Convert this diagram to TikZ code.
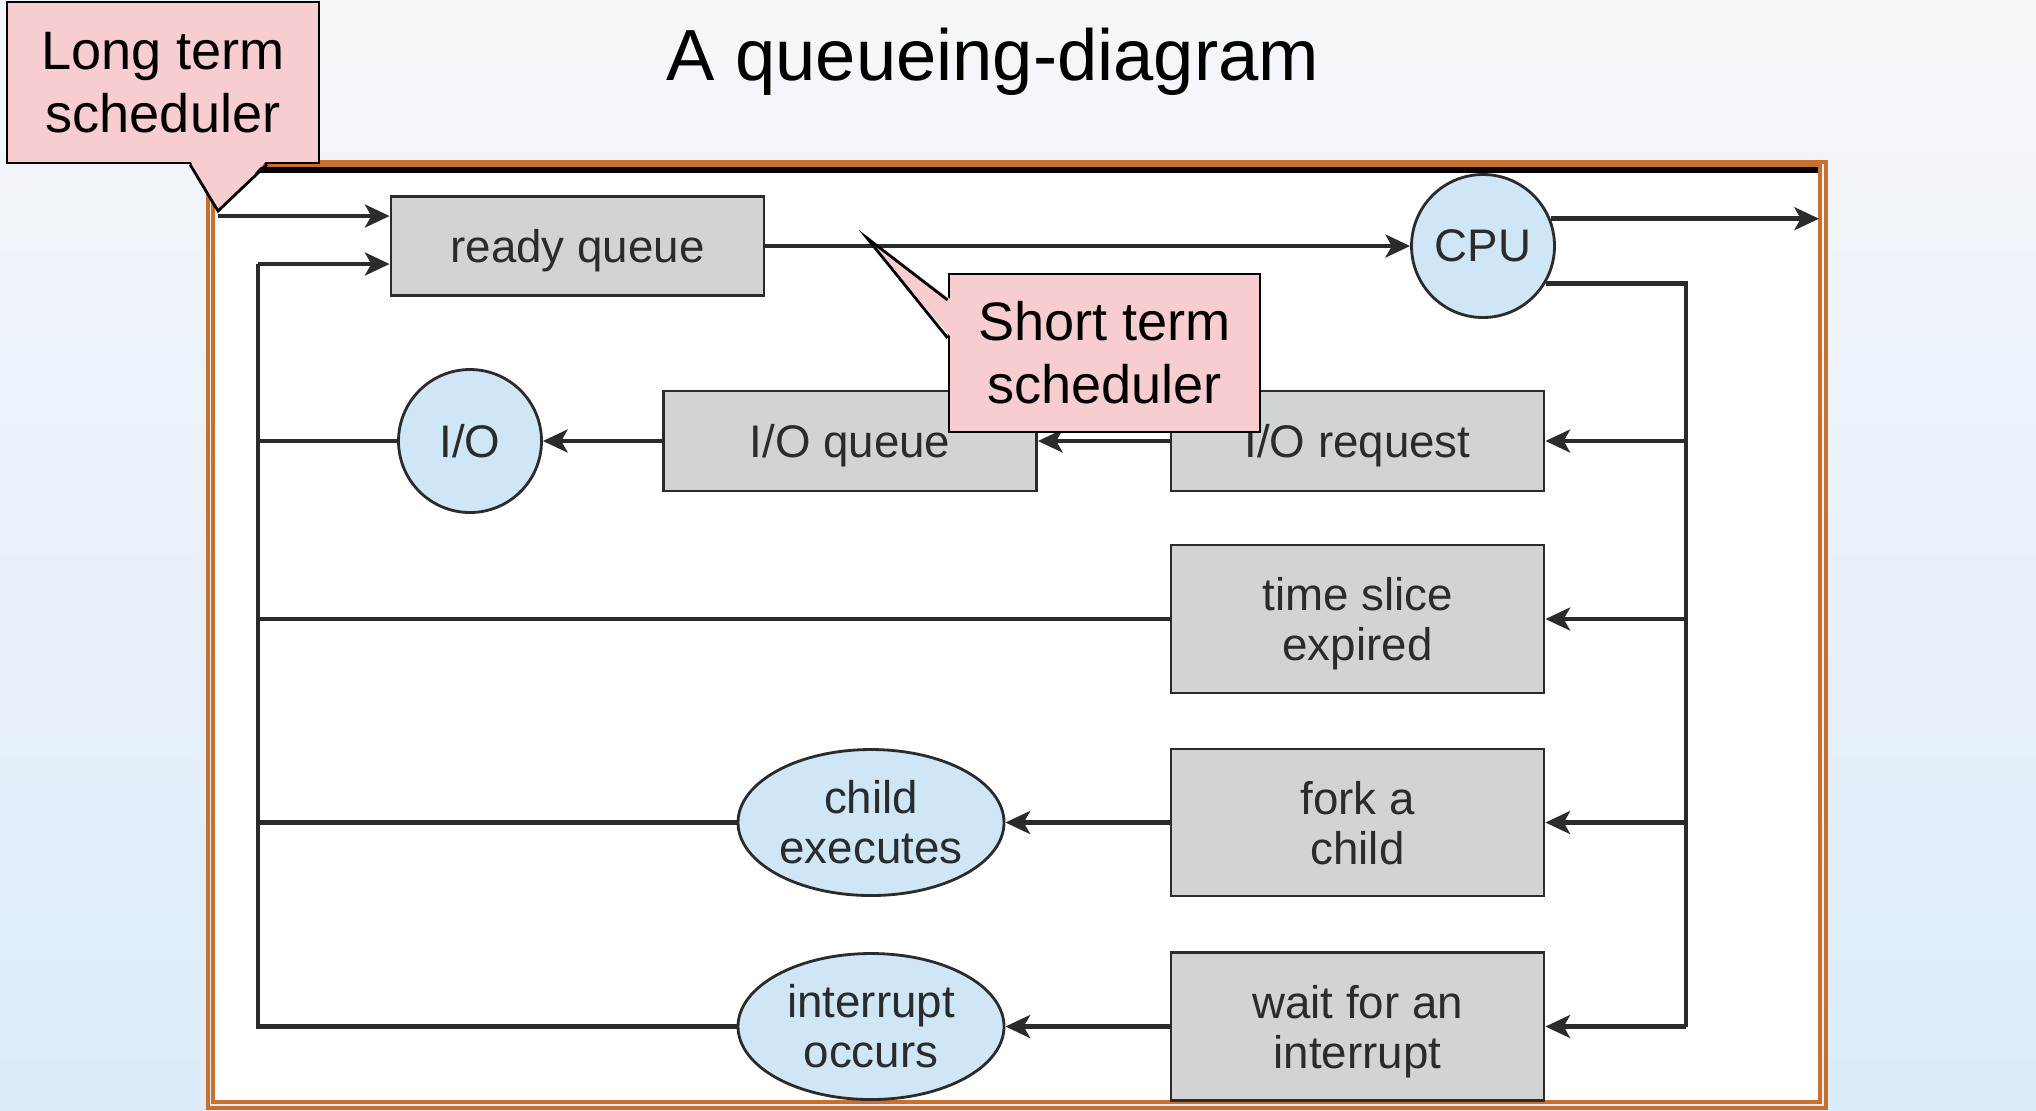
\documentclass[tikz,border=0pt]{standalone}
\usepackage{fontspec}
\setmainfont{Liberation Sans}
\usetikzlibrary{arrows.meta, positioning, shapes.geometric, calc}

\definecolor{bgtop}{HTML}{F5F7FA}
\definecolor{bgbot}{HTML}{DCECFA}
\definecolor{boxgray}{HTML}{D1D3D4}
\definecolor{devblue}{HTML}{CFE6F7}
\definecolor{notepink}{HTML}{F7CDCF}
\definecolor{frameorange}{HTML}{C8702E}
\definecolor{inkgray}{HTML}{2B2B2B}

\begin{document}
\begin{tikzpicture}[
  queue/.style={rectangle, draw=inkgray, fill=boxgray, line width=0.8pt,
                minimum width=3.73cm, inner sep=0pt, text depth=0pt, align=center,
                text=inkgray, font=\fontsize{13}{14.2}\selectfont},
  device/.style={circle, draw=inkgray, fill=devblue, line width=0.8pt,
                 minimum size=1.43cm, inner sep=0pt, text=inkgray,
                 font=\fontsize{13}{14.2}\selectfont},
  event/.style={ellipse, draw=inkgray, fill=devblue, line width=0.8pt,
                minimum width=2.66cm, minimum height=1.46cm, inner sep=0pt,
                align=center, text=inkgray, font=\fontsize{13}{14.2}\selectfont},
  note/.style={rectangle, draw=black, fill=notepink, line width=0.8pt,
               inner sep=0pt, align=center, font=\fontsize{15.4}{17.9}\selectfont},
  flow/.style={line width=1.3pt, draw=inkgray, -{Stealth[length=7pt, width=6.5pt, inset=1.8pt]}},
  link/.style={line width=1.3pt, draw=inkgray}
]
  % slide background and frame
  \shade[top color=bgtop, bottom color=bgbot] (0,0) rectangle (20.36,-11.10);
  \fill[white] (2.13,-1.66) rectangle (18.20,-11.02);
  \draw[frameorange, line width=0.9pt] (2.08,-1.62) rectangle (18.26,-11.08);
  \draw[frameorange, line width=0.9pt] (2.13,-1.66) rectangle (18.20,-11.02);
  \draw[line width=1.5pt] (2.15,-1.70) -- (18.18,-1.70);

  \node[font=\fontsize{20.6}{24}\selectfont, anchor=base] (title) at (9.93,-0.80) {A queueing-diagram};

  % queues and devices
  \node[queue, minimum height=0.99cm] (ready) at (5.775,-2.46) {ready queue};
  \node[device] (cpu) at (14.83,-2.46) {CPU};
  \node[queue, minimum height=1.0cm] (ioreq) at (13.575,-4.41) {I/O request};
  \node[queue, minimum height=1.0cm] (ioq) at (8.50,-4.41) {I/O queue};
  \node[device] (io) at (4.70,-4.41) {I/O};
  \node[queue, minimum height=1.48cm] (slice) at (13.575,-6.19) {time slice\\expired};
  \node[queue, minimum height=1.47cm] (fork) at (13.575,-8.225) {fork a\\child};
  \node[queue, minimum height=1.48cm] (wait) at (13.575,-10.265) {wait for an\\interrupt};
  \node[event] (child) at (8.71,-8.225) {child\\executes};
  \node[event] (intr) at (8.71,-10.265) {interrupt\\occurs};

  \coordinate (lt) at (2.18,-2.16);
  \coordinate (lbus) at (2.58,-2.64);
  \coordinate (rbus) at (16.86,0);
  \coordinate (out) at (18.19,0);

  % into and out of the CPU
  \draw[flow] (lt) -- (lt -| ready.west);
  \draw[flow] (ready.east) -- (cpu.west);
  \draw[flow] (cpu.22) -- (cpu.22 -| out);
  \draw[link] (cpu.-31) -| (wait.east -| rbus);
  \foreach \b in {ioreq, slice, fork, wait}
    \draw[flow] (\b.east -| rbus) -- (\b.east);

  % rows
  \draw[flow] (ioreq.west) -- (ioq.east);
  \draw[flow] (ioq.west) -- (io.east);
  \draw[flow] (fork.west) -- (child.east);
  \draw[flow] (wait.west) -- (intr.east);

  % back to the ready queue
  \draw[flow] (lbus) -- (lbus -| ready.west);
  \draw[link] (lbus) |- (intr.west);
  \foreach \n in {io, slice, child}
    \draw[link] (\n.west) -- (\n.west -| lbus);

  % schedulers
  \node[note, minimum width=3.12cm, minimum height=1.61cm] (lts) at (1.63,-0.825) {Long term\\scheduler};
  \coordinate (ltip) at (2.18,-2.11);
  \fill[notepink] ($(lts.south)+(0.27,0.04)$) -- (ltip) -- ($(lts.south)+(1.04,0.04)$) -- cycle;
  \draw[line width=0.8pt] ($(lts.south)+(0.27,0)$) -- (ltip) -- ($(lts.south)+(1.04,0)$);

  \node[note, minimum width=3.11cm, minimum height=1.58cm] (sts) at (11.045,-3.53) {Short term\\scheduler};
  \coordinate (stip) at (8.67,-2.38);
  \fill[notepink] ($(sts.west)+(0.04,0.53)$) -- (stip) -- ($(sts.west)+(0.04,0.15)$) -- cycle;
  \draw[line width=0.8pt] ($(sts.west)+(0,0.53)$) -- (stip) -- ($(sts.west)+(0,0.15)$);
\end{tikzpicture}
\end{document}
